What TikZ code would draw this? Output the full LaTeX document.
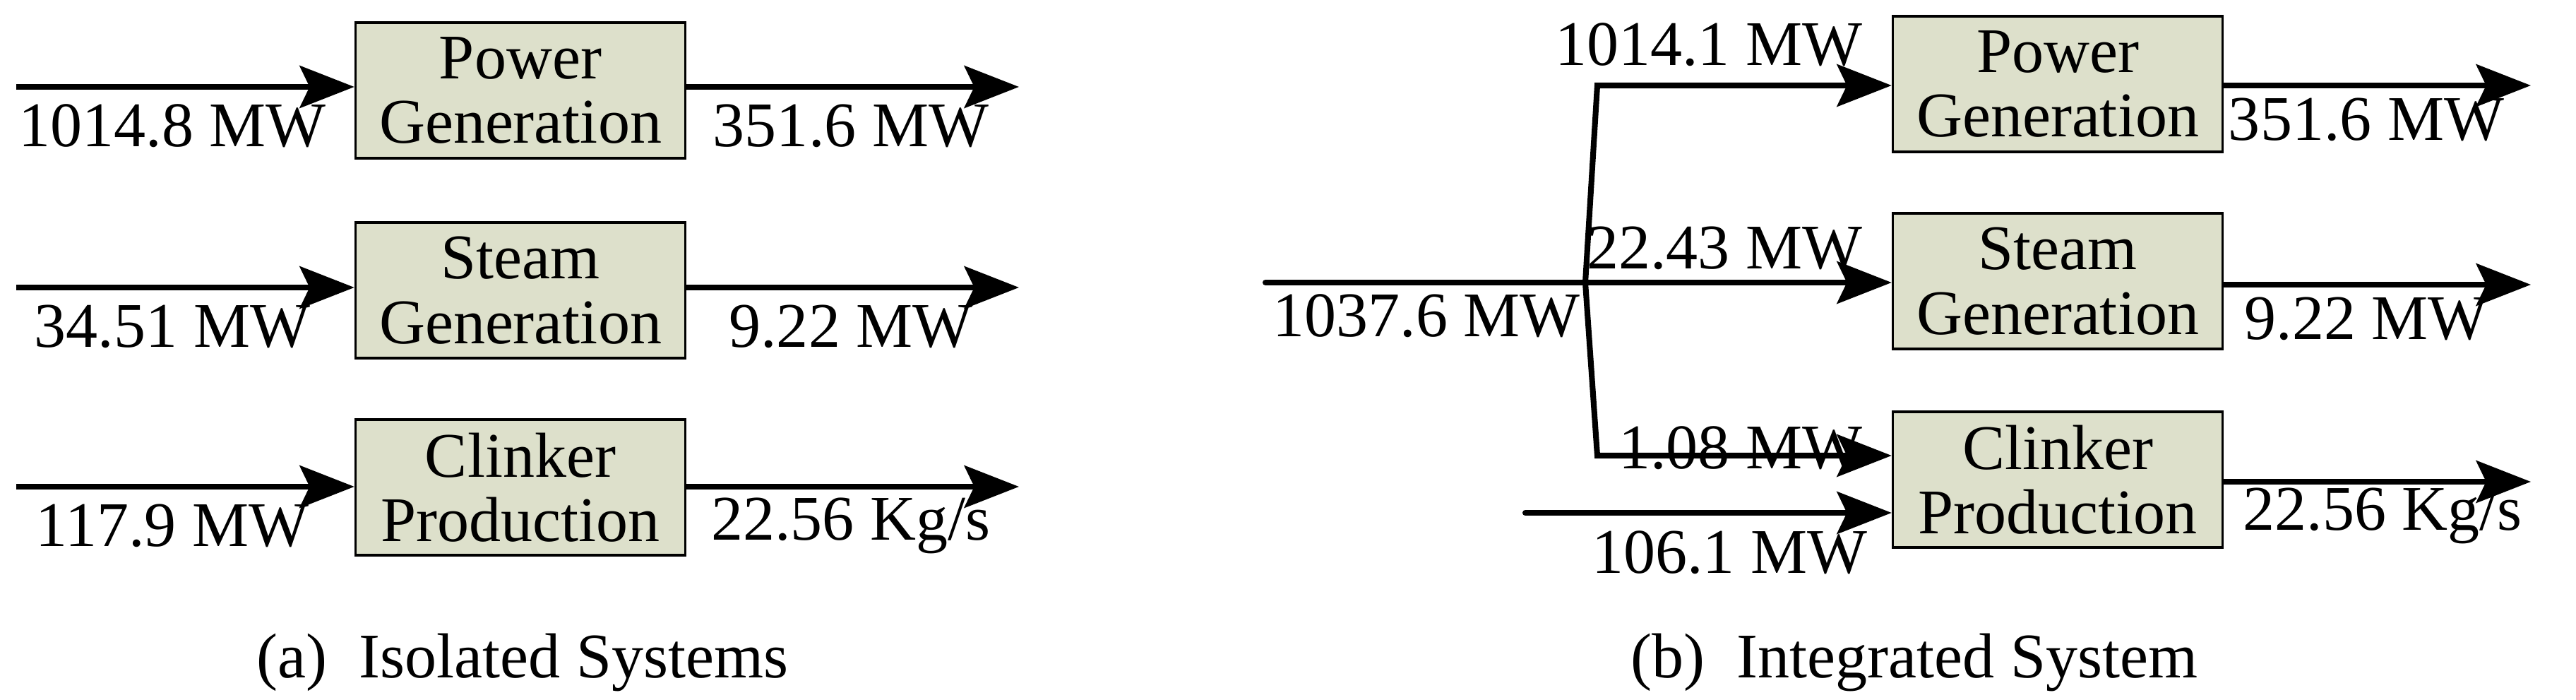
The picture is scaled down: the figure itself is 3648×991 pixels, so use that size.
\documentclass[tikz,border=0pt]{standalone}
\usepackage{fontspec}
\setmainfont{Liberation Serif}
\usetikzlibrary{arrows.meta}
\definecolor{boxfill}{RGB}{221,224,203}
\begin{document}
\begin{tikzpicture}[x=0.01cm,y=-0.01cm,
  font=\fontsize{25.6}{26}\selectfont,
  box/.style={draw=black,line width=0.9pt,fill=boxfill,minimum width=4.67cm,minimum height=1.92cm,align=center,inner sep=0pt},
  flow/.style={line width=2.3pt,-{Stealth[length=22pt,width=17pt,inset=4pt]}},
  lbl/.style={inner sep=2pt}]
\useasboundingbox (0,0) rectangle (3648,991);
% (a) isolated
\node[box] (pa) at (737,128) {Power\\Generation};
\node[box] (sa) at (737,411) {Steam\\Generation};
\node[box] (ca) at (737,690) {Clinker\\Production};
\foreach \b/\y/\i/\o in {pa/123/{1014.8 MW}/{351.6 MW}, sa/407/{34.51 MW}/{9.22 MW}, ca/689/{117.9 MW}/{22.56 Kg/s}}{
  \coordinate (\b in) at (23,\y);
  \coordinate (\b out) at (1443,\y);
  \draw[flow] (\b in) -- (\b in -| \b.west);
  \draw[flow] (\b in -| \b.east) -- (\b out);
  \node[lbl] at (244,\y+55) {\i};
  \node[lbl] at (1205,\y+55) {\o};
}
\node (capa) at (740,938) {(a)\ \ Isolated Systems};
% (b) integrated
\node[box] (pb) at (2914,119) {Power\\Generation};
\node[box] (sb) at (2914,398) {Steam\\Generation};
\node[box] (cb) at (2914,679) {Clinker\\Production};
\coordinate (in) at (1792,400);
\coordinate (j) at (2245,400);
\coordinate (jt) at (2262,121);
\coordinate (jb) at (2262,645);
\coordinate (in2) at (2160,726);
\draw[line width=2.3pt,line cap=round] (in) -- (j);
\draw[flow,line join=miter] (j) -- (jt) -- (jt -| pb.west);
\draw[flow] (j) -- (j -| sb.west);
\draw[flow,line join=miter] (j) -- (jb) -- (jb -| cb.west);
\draw[flow,line cap=round] (in2) -- (in2 -| cb.west);
\node[lbl,anchor=base east] at (2645,93) {1014.1 MW};
\node[lbl,anchor=base east] at (2645,380) {22.43 MW};
\node[lbl,anchor=base east] at (2645,663) {1.08 MW};
\node[lbl,anchor=north east] at (2652,744) {106.1 MW};
\node[lbl] at (2020,447) {1037.6 MW};
\foreach \b/\y/\o/\lx in {pb/121/{351.6 MW}/3351, sb/403/{9.22 MW}/3351, cb/682/{22.56 Kg/s}/3374}{
  \coordinate (\b out) at (3584,\y);
  \draw[flow] (\b out -| \b.east) -- (\b out);
  \node[lbl] at (\lx,\y+48) {\o};
}
\node (capb) at (2711,938) {(b)\ \ Integrated System};
\end{tikzpicture}
\end{document}
